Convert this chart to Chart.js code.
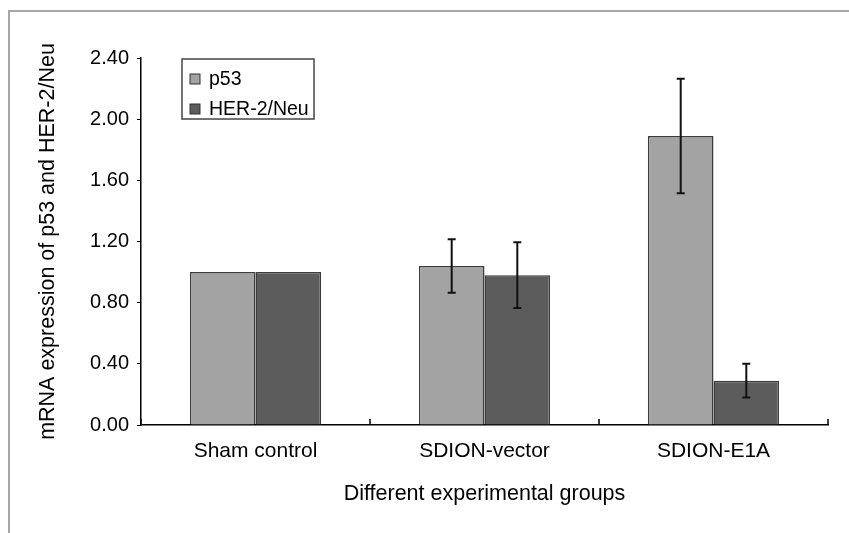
<!DOCTYPE html>
<html>
<head>
<meta charset="utf-8">
<script src="https://cdn.jsdelivr.net/npm/chart.js@4.4.1/dist/chart.umd.min.js"></script>
<style>
  body { margin: 0; background: #fff; }
  canvas { display: block; }
</style>
</head>
<body>
<canvas id="mrnaChart" width="849" height="533"></canvas>
<script>
// data
const groups = ['Sham control', 'SDION-vector', 'SDION-E1A'];
const p53Values = [1.00, 1.04, 1.89];
const p53Errors = [0, 0.175, 0.375];
const herValues = [1.00, 0.98, 0.29];
const herErrors = [0, 0.215, 0.11];
const yTicks = [0, 0.4, 0.8, 1.2, 1.6, 2.0, 2.4];

const FONT = '"Liberation Sans", Arial, sans-serif';

// gray frame round the figure
const framePlugin = {
    id: 'frame',
    beforeDraw(chart) {
        const ctx = chart.ctx;
        ctx.save();
        ctx.strokeStyle = '#a6a6a6';
        ctx.lineWidth = 2;
        ctx.beginPath();
        ctx.moveTo(9, 533);
        ctx.lineTo(9, 11);
        ctx.lineTo(849, 11);
        ctx.stroke();
        ctx.restore();
    }
};

// error bars + inward x ticks + axis titles + boxed legend
const extrasPlugin = {
    id: 'extras',
    afterDatasetsDraw(chart) {
        const ctx = chart.ctx;
        const y = chart.scales.y;
        const x = chart.scales.x;
        const area = chart.chartArea;
        ctx.save();

        chart.data.datasets.forEach((ds, di) => {
            const meta = chart.getDatasetMeta(di);
            meta.data.forEach((bar, i) => {
                const e = ds.errors[i];
                if (!e) return;
                const top = y.getPixelForValue(ds.data[i] + e);
                const bot = y.getPixelForValue(ds.data[i] - e);
                ctx.strokeStyle = '#111';
                ctx.lineWidth = 2;
                ctx.beginPath();
                ctx.moveTo(bar.x, top); ctx.lineTo(bar.x, bot);
                ctx.moveTo(bar.x - 4, top); ctx.lineTo(bar.x + 4, top);
                ctx.moveTo(bar.x - 4, bot); ctx.lineTo(bar.x + 4, bot);
                ctx.stroke();
            });
        });

        // small upward ticks between categories
        ctx.strokeStyle = '#000';
        ctx.lineWidth = 1.5;
        for (let i = 0; i <= groups.length; i++) {
            const px = Math.round(x.getPixelForValue(i - 0.5));
            ctx.beginPath();
            ctx.moveTo(px, area.bottom);
            ctx.lineTo(px, area.bottom - 6);
            ctx.stroke();
        }

        // axis titles, centred on the plot area
        ctx.fillStyle = '#000';
        ctx.textAlign = 'center';
        ctx.textBaseline = 'middle';
        ctx.font = '21.5px ' + FONT;
        ctx.fillText('Different experimental groups', (area.left + area.right) / 2, 494);
        ctx.save();
        ctx.translate(48, (area.top + area.bottom) / 2);
        ctx.rotate(-Math.PI / 2);
        ctx.fillText('mRNA expression of p53 and HER-2/Neu', 0, 0);
        ctx.restore();

        // legend box
        const lx = 182, ly = 59, lw = 132, lh = 60;
        ctx.fillStyle = '#fff';
        ctx.fillRect(lx, ly, lw, lh);
        ctx.strokeStyle = '#444';
        ctx.lineWidth = 1.5;
        ctx.strokeRect(lx, ly, lw, lh);
        ctx.font = '19.5px ' + FONT;
        ctx.textAlign = 'left';
        chart.data.datasets.forEach((ds, di) => {
            const cy = ly + 20 + di * 30;
            ctx.fillStyle = ds.backgroundColor;
            ctx.fillRect(190, cy - 5, 10, 10);
            ctx.strokeStyle = '#333';
            ctx.lineWidth = 1;
            ctx.strokeRect(190, cy - 5, 10, 10);
            ctx.fillStyle = '#000';
            ctx.fillText(ds.label, 209, cy + 1);
        });
        ctx.restore();
    }
};

const data = {
    labels: groups,
    datasets: [
        {
            label: 'p53',
            data: p53Values,
            errors: p53Errors,
            backgroundColor: '#a3a3a3',
            borderColor: '#3c3c3c',
            borderWidth: 1.5
        },
        {
            label: 'HER-2/Neu',
            data: herValues,
            errors: herErrors,
            backgroundColor: '#5c5c5c',
            borderColor: '#3c3c3c',
            borderWidth: 1.5
        }
    ]
};

const options = {
    responsive: false,
    animation: false,
    layout: { padding: { left: 0, top: 58, right: 21, bottom: 0 } },
    datasets: {
        bar: { categoryPercentage: 0.573, barPercentage: 1.0 }
    },
    plugins: {
        legend: { display: false },
        title: { display: false },
        tooltip: { enabled: false }
    },
    scales: {
        x: {
            grid: { display: false, drawTicks: false },
            border: { display: true, color: '#000', width: 1.5 },
            ticks: {
                color: '#000',
                padding: 14,
                font: { family: FONT, size: 21 }
            },
            afterFit(scale) { scale.height = 108; }
        },
        y: {
            min: 0,
            max: 2.4,
            afterBuildTicks(scale) {
                scale.ticks = yTicks.map(v => ({ value: v }));
            },
            grid: {
                drawOnChartArea: false,
                drawTicks: true,
                tickLength: 4,
                color: '#000'
            },
            border: { display: true, color: '#000', width: 1.5 },
            ticks: {
                color: '#000',
                padding: 8,
                font: { family: FONT, size: 20 },
                callback: v => Number(v).toFixed(2)
            },
            afterFit(scale) { scale.width = 141; }
        }
    }
};

const config = {
    type: 'bar',
    data: data,
    options,
    plugins: [framePlugin, extrasPlugin]
};

const mrnaChart = new Chart(
    document.getElementById('mrnaChart'),
    config
);
</script>
</body>
</html>
